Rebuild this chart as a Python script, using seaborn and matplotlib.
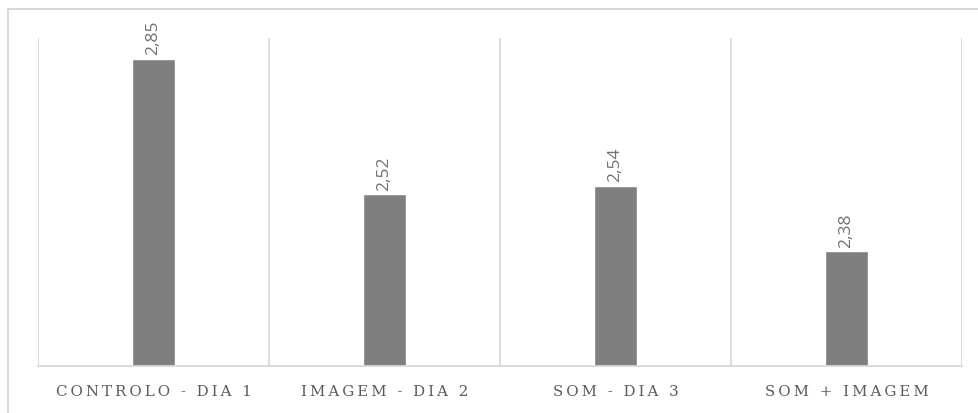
import numpy as np
import pandas as pd
import seaborn as sns
import matplotlib.pyplot as plt
from matplotlib.patches import Rectangle

categories = ['CONTROLO - DIA 1', 'IMAGEM - DIA 2', 'SOM - DIA 3', 'SOM + IMAGEM']
values = [2.85, 2.52, 2.54, 2.38]
value_labels = ['2,85', '2,52', '2,54', '2,38']

sns.set_style('white')
df = pd.DataFrame({'cat': categories, 'val': values})

fig = plt.figure(figsize=(9.79, 4.14), dpi=100)
ax = fig.add_axes([38 / 979, 47 / 414, (962 - 38) / 979, (367 - 39) / 414])

sns.barplot(data=df, x='cat', y='val', color='#7f7f7f', saturation=1,
            width=0.19, ax=ax)
ax.set_ylim(2.1, 2.9)
ax.set_xlim(-0.5, len(categories) - 0.5)

# separators between categories
for x in np.arange(-0.5, len(categories), 1.0):
    ax.axvline(x, color='#d9d9d9', lw=1.3, zorder=0)

for s in ['top', 'left', 'right']:
    ax.spines[s].set_visible(False)
ax.spines['bottom'].set_color('#d9d9d9')
ax.spines['bottom'].set_linewidth(1.3)

ax.set_yticks([])
ax.set_xlabel('')
ax.set_ylabel('')
ax.tick_params(axis='x', length=0, pad=13)
spaced = ['\u2009'.join(c) for c in categories]
ax.set_xticks(range(len(categories)))
ax.set_xticklabels(spaced, family=['DejaVu Serif'], fontsize=10.8, color='#595959')

for i, (v, lab) in enumerate(zip(values, value_labels)):
    ax.annotate(lab, (i, v), xytext=(0, 3), textcoords='offset points',
                rotation=90, ha='center', va='bottom', fontsize=12.5,
                color='#707070', family=['Open Sans', 'DejaVu Sans'])

fig.patches.append(Rectangle((8 / 979, -0.05), 1.1, (414 - 10) / 414 + 0.05,
                             transform=fig.transFigure, fill=False,
                             edgecolor='#d9d9d9', lw=1.5))

fig.savefig('out.png', dpi=100)
